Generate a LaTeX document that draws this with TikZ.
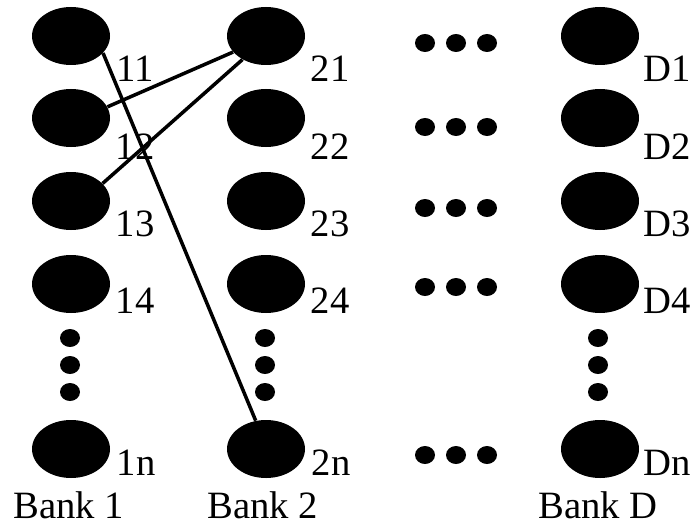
\documentclass[tikz,border=0pt]{standalone}
\usepackage{fontspec}
\setmainfont{Liberation Serif}
\usepackage{tikz}
\usetikzlibrary{shapes.geometric}
\tikzset{
    cell/.style={draw=none, fill=black, ellipse, inner sep=0pt, minimum width=1.56cm, minimum height=1.16cm},
    dotmark/.style={draw=none, fill=black, ellipse, inner sep=0pt, minimum width=0.4cm, minimum height=0.36cm},
    idlabel/.style={font=\fontsize{22}{26}\selectfont, anchor=base, inner sep=0pt},
    banklabel/.style={idlabel},
    link/.style={line width=2pt, draw=black},
}

\begin{document}
\begin{tikzpicture}
    \useasboundingbox (0, 0) rectangle (13.84, 10.5);

    % === Bank 1 ===
    \node[cell] (e11) at (1.42, 9.78) {};
    \node[cell] (e12) at (1.42, 8.14) {};
    \node[cell] (e13) at (1.42, 6.48) {};
    \node[cell] (e14) at (1.42, 4.82) {};
    \node[cell] (e1n) at (1.42, 1.52) {};
    \node[idlabel] (l11) at (2.70, 8.86) {11};
    \node[idlabel] (l12) at (2.70, 7.32) {12};
    \node[idlabel] (l13) at (2.70, 5.78) {13};
    \node[idlabel] (l14) at (2.70, 4.24) {14};
    \node[idlabel] (l1n) at (2.72, 1.00) {1n};
    \node[banklabel] (b1) at (1.38, 0.14) {Bank 1};

    % === Bank 2 ===
    \node[cell] (e21) at (5.32, 9.78) {};
    \node[cell] (e22) at (5.32, 8.14) {};
    \node[cell] (e23) at (5.32, 6.48) {};
    \node[cell] (e24) at (5.32, 4.82) {};
    \node[cell] (e2n) at (5.32, 1.52) {};
    \node[idlabel] (l21) at (6.60, 8.86) {21};
    \node[idlabel] (l22) at (6.60, 7.32) {22};
    \node[idlabel] (l23) at (6.60, 5.78) {23};
    \node[idlabel] (l24) at (6.60, 4.24) {24};
    \node[idlabel] (l2n) at (6.62, 1.00) {2n};
    \node[banklabel] (b2) at (5.26, 0.14) {Bank 2};

    % === Bank D ===
    \node[cell] (eD1) at (12.0, 9.78) {};
    \node[cell] (eD2) at (12.0, 8.14) {};
    \node[cell] (eD3) at (12.0, 6.48) {};
    \node[cell] (eD4) at (12.0, 4.82) {};
    \node[cell] (eDn) at (12.0, 1.52) {};
    \node[idlabel] (lD1) at (13.34, 8.86) {D1};
    \node[idlabel] (lD2) at (13.34, 7.32) {D2};
    \node[idlabel] (lD3) at (13.34, 5.78) {D3};
    \node[idlabel] (lD4) at (13.34, 4.24) {D4};
    \node[idlabel] (lDn) at (13.34, 1.00) {Dn};
    \node[banklabel] (bD) at (11.96, 0.14) {Bank D};

    % vertical dots
    \foreach \x/\c in {1.40/a, 5.30/b, 11.96/d}
        \foreach \y/\r in {3.74/1, 3.20/2, 2.66/3}
            \node[dotmark] (v\c\r) at (\x, \y) {};

    % horizontal dots
    \foreach \y/\r in {9.64/1, 7.96/2, 6.34/3, 4.76/4, 1.40/n}
        \foreach \x/\c in {8.50/1, 9.12/2, 9.74/3}
            \node[dotmark] (h\r\c) at (\x, \y) {};

    % connections
    \draw[link] (e11.-28) -- (e2n.110);
    \draw[link] (e21.206) -- (e12.17);
    \draw[link] (e21.225) -- (e13.29);
\end{tikzpicture}
\end{document}
